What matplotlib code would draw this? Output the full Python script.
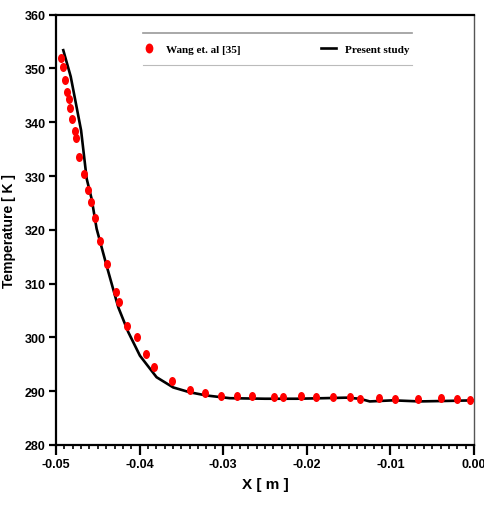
import numpy as np
import matplotlib
matplotlib.use("Agg")
import matplotlib.pyplot as plt
from matplotlib.path import Path
from matplotlib.transforms import Affine2D

# Wang et. al [35] (symbols)
wang_x = [-0.04944, -0.0492, -0.04896, -0.04865, -0.04841, -0.04829, -0.04805,
          -0.04777, -0.04765, -0.04722, -0.04669, -0.04621, -0.04578, -0.04534,
          -0.0447, -0.0439, -0.04279, -0.04243, -0.04148, -0.04032, -0.03928,
          -0.03825, -0.03614, -0.03399, -0.03216, -0.03028, -0.0284, -0.02661,
          -0.02391, -0.02279, -0.02064, -0.01884, -0.01686, -0.01487, -0.01359,
          -0.0114, -0.0094, -0.00666, -0.00391, -0.00204, -0.00044]
wang_t = [351.9, 350.3, 347.9, 345.6, 344.3, 342.6, 340.6,
          338.4, 337.0, 333.5, 330.4, 327.4, 325.2, 322.2,
          318.0, 313.6, 308.5, 306.5, 302.1, 300.0, 296.9,
          294.5, 291.9, 290.2, 289.6, 289.1, 289.1, 289.2,
          289.0, 289.0, 289.1, 288.9, 288.9, 288.9, 288.6,
          288.8, 288.6, 288.6, 288.8, 288.6, 288.4]

# Present study (line)
study_x = [-0.04913, -0.04824, -0.04700, -0.04633, -0.04573, -0.04514, -0.04394,
           -0.04255, -0.04136, -0.03996, -0.03797, -0.03598, -0.03400, -0.03199,
           -0.0292, -0.02500, -0.02124, -0.01800, -0.01526, -0.01367, -0.01247,
           -0.00968, -0.0065, -0.00300, 0.0]
study_t = [353.4, 348.5, 338.5, 329.5, 325.7, 320.2, 313.3,
           305.6, 301.0, 296.6, 292.6, 290.7, 289.8, 289.2,
           288.7, 288.6, 288.6, 288.7, 288.8, 288.6, 288.1,
           288.3, 288.1, 288.2, 288.3]

sans = ["Liberation Sans", "DejaVu Sans"]
serif = ["Liberation Serif", "DejaVu Serif"]

fig = plt.figure(figsize=(4.84, 5.06), dpi=100)
ax = fig.add_axes([0.1157, 0.1186, 0.8636, 0.8504])

dot = Path.unit_circle().transformed(Affine2D().scale(0.78, 1.0))

ax.plot(wang_x, wang_t, linestyle="none", marker=dot, markersize=6.5,
        color="#ff0000", markeredgewidth=0, label="Wang et. al [35]", zorder=3)
ax.plot(study_x, study_t, color="black", linewidth=1.9, label="Present study",
        zorder=2)

ax.set_xlim(-0.05, 0.0)
ax.set_ylim(280, 360)
ax.set_xticks(np.arange(-0.05, 0.001, 0.01))
ax.set_xticks(np.arange(-0.05, 0.0001, 0.001), minor=True)
ax.set_yticks(np.arange(280, 361, 10))
ax.set_xticklabels(["-0.05", "-0.04", "-0.03", "-0.02", "-0.01", "0.00"])

for s in ax.spines.values():
    s.set_linewidth(1.6)
    s.set_color("black")
ax.spines["right"].set_linewidth(1.0)
ax.spines["right"].set_color("#555555")

ax.tick_params(axis="both", which="major", direction="out", length=5, width=1.6,
               labelsize=9, pad=2.5)
ax.tick_params(axis="x", which="minor", direction="out", length=3, width=1.2)
ax.tick_params(axis="x", which="major", length=7)
for lab in ax.get_xticklabels() + ax.get_yticklabels():
    lab.set_family(sans)
    lab.set_fontweight("bold")

ax.set_xlabel("X [ m ]", family=sans, fontweight="bold", fontsize=11, labelpad=5)
ax.set_ylabel("Temperature [ K ]", family=sans, fontweight="bold", fontsize=10,
              labelpad=6)

leg = ax.legend(loc="center", bbox_to_anchor=(0.525, 0.921), ncol=2, frameon=False,
                prop={"family": serif, "weight": "bold", "size": 8},
                columnspacing=7.2, handlelength=1.4, handletextpad=0.8,
                markerscale=1.1)
ax.plot([0.208, 0.852], [0.957, 0.957], color="#999999", linewidth=1.2,
        transform=ax.transAxes, clip_on=False)
ax.plot([0.208, 0.852], [0.883, 0.883], color="#bbbbbb", linewidth=0.8,
        transform=ax.transAxes, clip_on=False)

fig.savefig("out.png", dpi=100)
